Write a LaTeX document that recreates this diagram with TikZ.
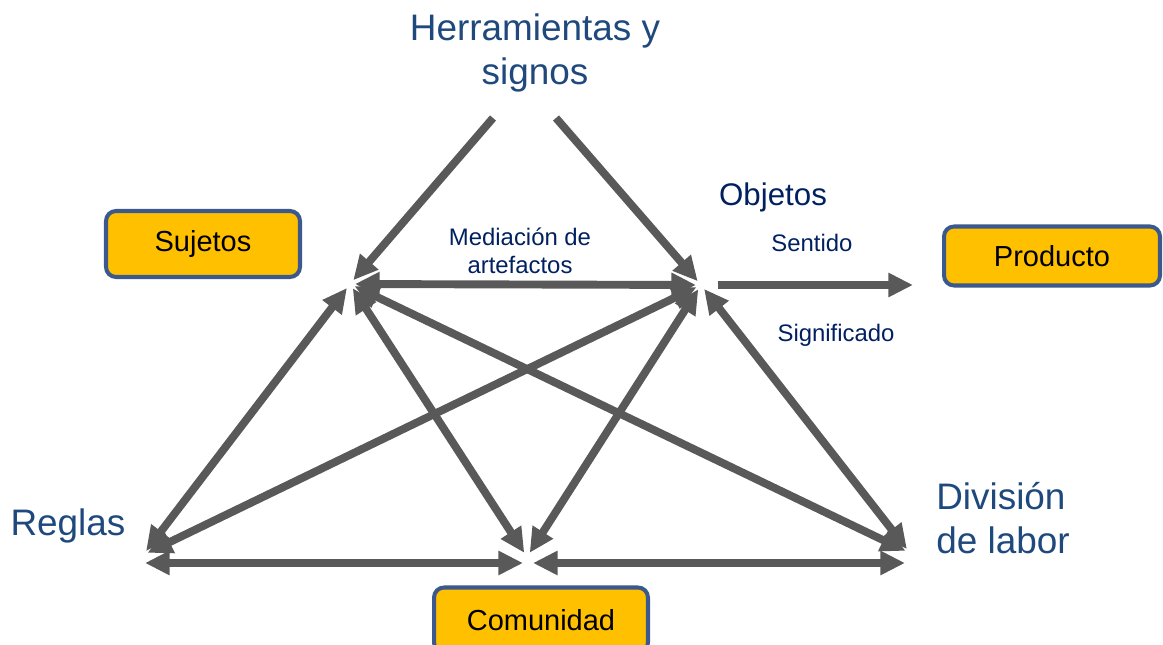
\documentclass[tikz,border=0pt]{standalone}
\usepackage{fontspec}
\setmainfont{Liberation Sans}
\usetikzlibrary{arrows.meta}
\definecolor{gris}{RGB}{89,89,89}
\definecolor{azul}{RGB}{31,73,125}
\definecolor{marino}{RGB}{0,32,96}
\definecolor{amarillo}{RGB}{255,192,0}
\definecolor{borde}{RGB}{59,89,140}

\begin{document}
\begin{tikzpicture}[x=0.02cm, y=-0.02cm, line width=4.5pt]
	\tikzstyle{flecha}=[draw=gris, {Triangle[length=14pt,width=13pt]}-{Triangle[length=14pt,width=13pt]}, shorten <=0.1cm, shorten >=0.1cm]
	\tikzstyle{media}=[draw=gris, -{Triangle[length=14pt,width=13pt]}, shorten >=0.1cm]
	\tikzstyle{caja}=[draw=borde, fill=amarillo, line width=2.3pt, rounded corners=0.2cm, inner sep=0, text=black, font=\fontsize{16.5}{20}\selectfont]
	\tikzstyle{grande}=[text=azul, align=center, font=\fontsize{21}{25.5}\selectfont]
	\tikzstyle{chico}=[text=marino, align=center, font=\fontsize{13.6}{16}\selectfont]
	\useasboundingbox (0,0) rectangle (1163,645);
	% vertices del triangulo
	\coordinate (S) at (350,284);
	\coordinate (O) at (701,285);
	\coordinate (R) at (143,555);
	\coordinate (C) at (527,557);
	\coordinate (D) at (910,553);
	\coordinate (Rb) at (140,563);
	\coordinate (Cb) at (528,563);
	\coordinate (Db) at (910,563);
	\coordinate (H1) at (493,118);
	\coordinate (H2) at (556,118);
	\coordinate (P) at (918,285);
	% textos
	\node[grande] (herr) at (535,53) {Herramientas y\\signos};
	\node[grande] (reglas) at (68,526) {Reglas};
	\node[grande, align=left] (div) at (1003,518) {División\\de labor};
	\node[chico, font=\fontsize{17.8}{21}\selectfont] (obj) at (773,197) {Objetos};
	\node[chico] (med) at (520,251) {Mediación de\\artefactos};
	\node[chico] (sent) at (812,243) {Sentido};
	\node[chico] (sig) at (836,335) {Significado};
	% cajas
	\node[caja, minimum width=3.88cm, minimum height=1.32cm] (suj) at (203,244) {Sujetos};
	\node[caja, minimum width=4.32cm, minimum height=1.18cm] (prod) at (1052,256) {Producto};
	\node[caja, minimum width=4.28cm, minimum height=1.3cm] (com) at (541,620) {Comunidad};
	% flechas
	\draw[media] (H1) -- (S);
	\draw[media] (H2) -- (O);
	\draw[media, shorten <=0.34cm] (O) -- (P);
	\foreach \a/\b in {S/O, S/R, S/C, S/D, O/R, O/C, O/D, Rb/Cb, Cb/Db}
		{\draw[flecha] (\a) -- (\b);}
\end{tikzpicture}
\end{document}
